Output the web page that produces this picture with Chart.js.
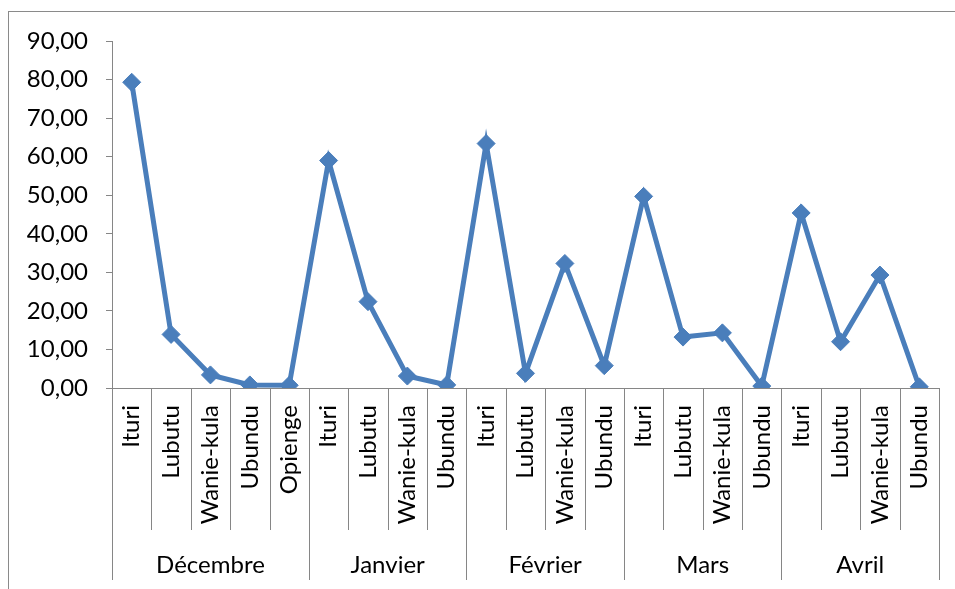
<!DOCTYPE html>
<html>
<head>
<meta charset="utf-8">
<script src="https://cdn.jsdelivr.net/npm/chart.js@4.4.1/dist/chart.umd.min.js"></script>
<style>
  html, body { margin: 0; padding: 0; background: #fff; overflow: hidden; }
  #wrap { position: relative; width: 955px; height: 589px; }
  #frame { position: absolute; left: 8px; top: 11px; width: 960px; height: 600px;
           border: 1px solid #8a8a8a; box-sizing: border-box; }
  #c { position: absolute; left: 0; top: 0; }
</style>
</head>
<body>
<div id="wrap">
  <div id="frame"></div>
  <canvas id="c" width="955" height="589"></canvas>
</div>
<script>
// Sites monitored each month (inner axis level)
const siteLabels = [
  'Ituri', 'Lubutu', 'Wanie-kula', 'Ubundu', 'Opienge',
  'Ituri', 'Lubutu', 'Wanie-kula', 'Ubundu',
  'Ituri', 'Lubutu', 'Wanie-kula', 'Ubundu',
  'Ituri', 'Lubutu', 'Wanie-kula', 'Ubundu',
  'Ituri', 'Lubutu', 'Wanie-kula', 'Ubundu'
];
// Months (outer axis level) and how many sites each one groups
const months = ['Décembre', 'Janvier', 'Février', 'Mars', 'Avril'];
const monthSizes = [5, 4, 4, 4, 4];
// Measured values per site
const values = [
  79.3, 13.9, 3.4, 0.8, 0.7,
  59.0, 22.4, 3.1, 0.8,
  63.4, 3.8, 32.3, 5.8,
  49.7, 13.2, 14.3, 0.5,
  45.4, 12.0, 29.3, 0.3
];
// Value axis ticks
const yTicks = [0, 10, 20, 30, 40, 50, 60, 70, 80, 90];

const FONT = 'Lato';
const FONT_SIZE = 24;
const AXIS_GREY = '#868686';
const LINE_BLUE = '#4A7EBB';

// Draws the category separators and the month row under the site labels
const groupAxis = {
  id: 'groupAxis',
  afterDraw(chart) {
    const x = chart.scales.x;
    const ctx = chart.ctx;
    const top = x.top;
    const step = x.getPixelForValue(1) - x.getPixelForValue(0);
    const edge = i => x.getPixelForValue(i) - step / 2;
    const groupStarts = new Set();
    let idx = 0;
    months.forEach((m, g) => { groupStarts.add(idx); idx += monthSizes[g]; });
    groupStarts.add(siteLabels.length);

    ctx.save();
    ctx.strokeStyle = AXIS_GREY;
    ctx.lineWidth = 1;
    for (let i = 0; i <= siteLabels.length; i++) {
      const px = Math.round(edge(i)) + 0.5;
      const bottom = groupStarts.has(i) ? top + 192 : top + 142;
      ctx.beginPath();
      ctx.moveTo(px, top);
      ctx.lineTo(px, bottom);
      ctx.stroke();
    }

    ctx.fillStyle = '#000';
    ctx.font = FONT_SIZE + 'px ' + FONT;
    ctx.textAlign = 'center';
    ctx.textBaseline = 'middle';
    idx = 0;
    months.forEach((m, g) => {
      const left = edge(idx);
      const right = edge(idx + monthSizes[g]);
      ctx.fillText(m, (left + right) / 2, top + 177);
      idx += monthSizes[g];
    });
    ctx.restore();
  }
};

new Chart(document.getElementById('c'), {
  type: 'line',
  data: {
    labels: siteLabels,
    datasets: [{
      data: values,
      borderColor: LINE_BLUE,
      backgroundColor: LINE_BLUE,
      borderWidth: 5,
      tension: 0,
      pointStyle: 'rectRot',
      pointRadius: 9,
      pointHoverRadius: 9,
      pointBorderWidth: 1,
      pointBackgroundColor: LINE_BLUE,
      pointBorderColor: LINE_BLUE
    }]
  },
  options: {
    responsive: false,
    animation: false,
    events: [],
    layout: { padding: { left: 0, right: 16, top: 41, bottom: 0 } },
    plugins: { legend: { display: false }, tooltip: { enabled: false } },
    scales: {
      x: {
        type: 'category',
        offset: true,
        grid: { display: true, drawOnChartArea: false, drawTicks: false, offset: true },
        border: { display: true, color: AXIS_GREY, width: 1 },
        ticks: {
          autoSkip: false,
          minRotation: 90,
          maxRotation: 90,
          padding: 17,
          color: '#000',
          font: { family: FONT, size: FONT_SIZE }
        },
        afterFit(scale) {
          scale.height = 201;
          scale.paddingLeft = 0;
          scale.paddingRight = 0;
        }
      },
      y: {
        min: 0,
        max: 90,
        afterBuildTicks(scale) { scale.ticks = yTicks.map(v => ({ value: v })); },
        grid: { display: true, drawOnChartArea: false, drawTicks: true, tickLength: 6, color: AXIS_GREY },
        border: { display: true, color: AXIS_GREY, width: 1 },
        ticks: {
          padding: 18,
          color: '#000',
          font: { family: FONT, size: FONT_SIZE },
          callback: v => v.toFixed(2).replace('.', ',')
        },
        afterFit(scale) { scale.width = 112; }
      }
    }
  },
  plugins: [groupAxis]
});
</script>
</body>
</html>
